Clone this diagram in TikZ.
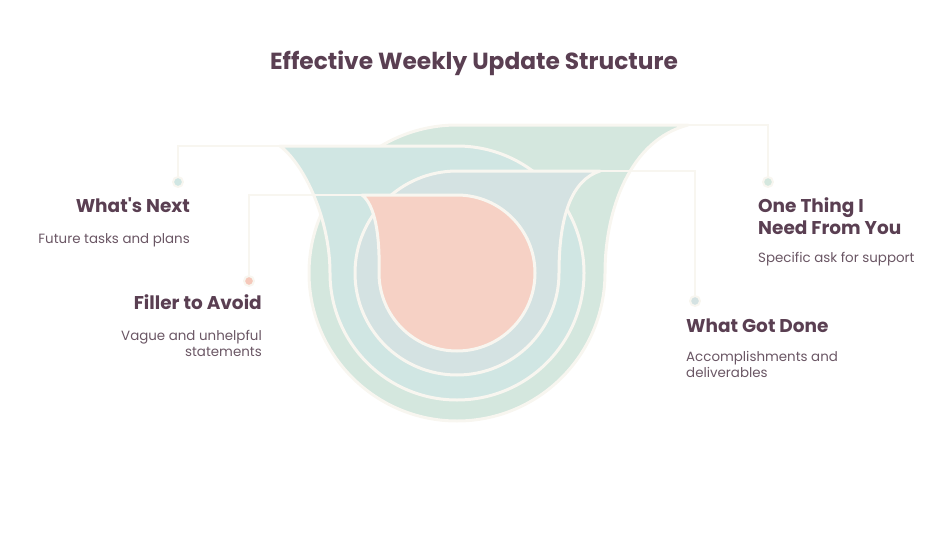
\documentclass[tikz,border=0pt]{standalone}
\usepackage{fontspec}
\setmainfont{Poppins}
\usetikzlibrary{positioning}
\definecolor{ringOne}{HTML}{D4E7DE}
\definecolor{ringNext}{HTML}{D0E6E3}
\definecolor{ringDone}{HTML}{D4E2E2}
\definecolor{ringFiller}{HTML}{F6D1C5}
\definecolor{dotFiller}{HTML}{F5C8BA}
\definecolor{edgeWhite}{HTML}{F8F6F0}
\definecolor{ink}{HTML}{5A3F52}
\definecolor{inkSoft}{HTML}{6A5664}

\begin{document}
\begin{tikzpicture}[x=1pt,y=-1pt,
		ring/.style={draw=edgeWhite, line width=3pt, line join=round},
		lead/.style={draw=edgeWhite, line width=2.5pt},
		dot/.style={circle, draw=edgeWhite, line width=2pt, inner sep=0pt, minimum size=10pt},
		head/.style={font=\fontsize{18.5}{22}\selectfont\bfseries, text=ink, inner sep=0pt},
		desc/.style={font=\fontsize{13.4}{16}\selectfont, text=inkSoft, inner sep=0pt}]
				\useasboundingbox (0,0) rectangle (948,543);
				% title
				\node[font=\fontsize{23.3}{28}\selectfont\bfseries, text=ink, anchor=base] (title) at (474,70) {Effective Weekly Update Structure};
				
				% rings, outer to inner
				\path[ring, fill=ringOne] (688,125) -- (457,125) arc[start angle=270, end angle=0, radius=148]
					.. controls (605,210) and (630,140) .. (688,125) -- cycle;
				\path[ring, fill=ringNext] (280,146) -- (457,146) arc[start angle=270, end angle=540, radius=127]
					.. controls (330,220) and (305,165) .. (280,146) -- cycle;
				\path[ring, fill=ringDone] (600,171) -- (457,171) arc[start angle=270, end angle=0, radius=102]
					.. controls (559,215) and (572,180) .. (600,171) -- cycle;
				\path[ring, fill=ringFiller] (362,195) -- (457,195) arc[start angle=270, end angle=540, radius=78]
					.. controls (380,235) and (375,205) .. (362,195) -- cycle;
				
				% tips of the rings
				\coordinate (oneTip) at (688,125);
				\coordinate (nextTip) at (280,146);
				\coordinate (doneTip) at (600,171);
				\coordinate (fillerTip) at (362,195);
				
				% dots
				\node[dot, fill=ringOne] (oneDot) at (768,182) {};
				\node[dot, fill=ringNext] (nextDot) at (178,182) {};
				\node[dot, fill=ringDone] (doneDot) at (695,301) {};
				\node[dot, fill=dotFiller] (fillerDot) at (249,281) {};
				
				% leaders
				\foreach \k in {one, next, done, filler}
					\draw[lead] (\k Tip) -| (\k Dot);
				
				% labels (base = last line)
				\node[head, anchor=base east] (nextHead) at (190,212) {What\textquotesingle s Next};
				\node[desc, anchor=base east] (nextDesc) at (190,243) {Future tasks and plans};
				\node[head, anchor=base east] (fillerHead) at (262,309) {Filler to Avoid};
				\node[desc, anchor=base east, align=right] (fillerDesc) at (262,356) {Vague and unhelpful\\statements};
				\node[head, anchor=base west, align=left] (oneHead) at (758,234) {One Thing I\\Need From You};
				\node[desc, anchor=base west] (oneDesc) at (758,262) {Specific ask for support};
				\node[head, anchor=base west] (doneHead) at (686,332) {What Got Done};
				\node[desc, anchor=base west, align=left] (doneDesc) at (686,377) {Accomplishments and\\deliverables};
			\end{tikzpicture}
\end{document}
